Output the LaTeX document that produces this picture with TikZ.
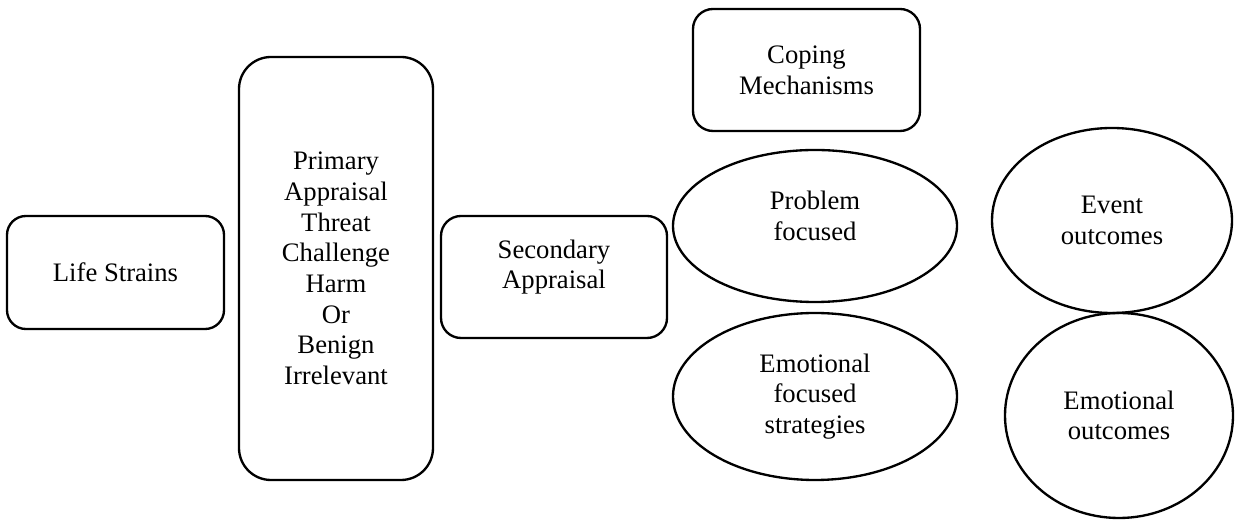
\documentclass[tikz,border=0pt]{standalone}
\usepackage{fontspec}
\setmainfont{Liberation Serif}
\usepackage{tikz}
\usetikzlibrary{shapes.geometric}
\newcommand{\px}{0.45pt}

\begin{document}
\begin{tikzpicture}[x=\px, y=-\px, font=\fontsize{12}{13.8}\selectfont, line width=1.05pt,
    rbox/.style={draw, rectangle, rounded corners=#1, align=center, inner sep=0pt},
    rbox/.default=9pt,
    oval/.style={draw, ellipse, align=center, inner sep=0pt}]
  \useasboundingbox (0,0) rectangle (1235,520);
  \node[rbox=8.5pt, minimum width=217*\px, minimum height=113*\px] (life) at (115.5,272.5) {Life Strains};
  \node[rbox=14.4pt, minimum width=194*\px, minimum height=423*\px] (primary) at (336,268.5)
    {Primary\\Appraisal\\Threat\\Challenge\\Harm\\Or\\Benign\\Irrelevant};
  \node[rbox, minimum width=226*\px, minimum height=122*\px, text depth=11.6pt] (secondary) at (554,277) {Secondary\\Appraisal};
  \node[rbox, minimum width=227*\px, minimum height=122*\px] (coping) at (806.5,70) {Coping\\Mechanisms};
  \node[oval, minimum width=284*\px, minimum height=152*\px, text depth=9pt] (problem) at (815,226) {Problem\\focused};
  \node[oval, minimum width=284*\px, minimum height=167*\px] (emofocus) at (815,396.5) {Emotional\\focused\\strategies};
  \node[oval, minimum width=240*\px, minimum height=185*\px] (event) at (1112,220.5) {Event\\outcomes};
  \node[oval, minimum width=228*\px, minimum height=205*\px] (emoout) at (1119,415.5) {Emotional\\outcomes};
\end{tikzpicture}
\end{document}
